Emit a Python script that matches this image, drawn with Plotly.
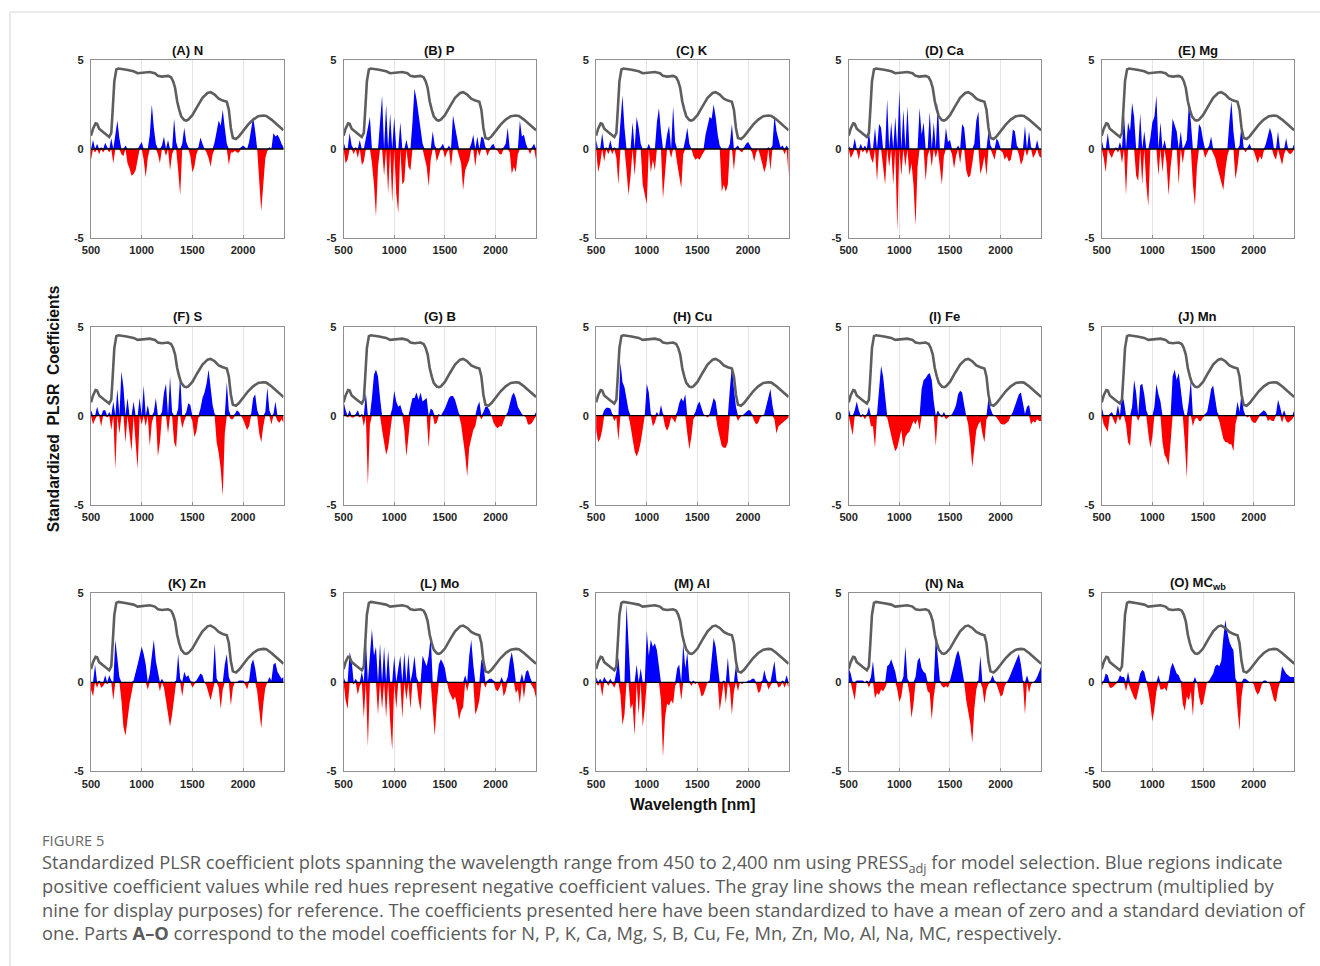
import plotly.graph_objects as go

# ---------------- data ----------------
WAVELENGTH = list(range(500, 2401, 20))  # 96 sample wavelengths (nm)

# mean reflectance spectrum x 9 (gray line)
REFL_WL = [500, 520, 545, 560, 580, 600, 640, 680, 700, 715, 730, 750, 770, 850, 920, 960,
           1000, 1080, 1130, 1160, 1200, 1260, 1290, 1310, 1330, 1350, 1370, 1390, 1420, 1440,
           1460, 1500, 1550, 1600, 1650, 1680, 1720, 1760, 1800, 1840, 1860, 1880, 1900, 1930,
           1960, 2000, 2050, 2100, 2150, 2200, 2230, 2280, 2330, 2370, 2400]
REFL_X9 = [0.75, 1.14, 1.44, 1.41, 1.14, 1.03, 0.86, 0.68, 0.90, 2.30, 3.80, 4.47, 4.52, 4.45,
           4.37, 4.26, 4.28, 4.33, 4.26, 4.11, 4.07, 4.11, 4.03, 3.81, 3.43, 2.68, 2.21, 1.84,
           1.63, 1.60, 1.65, 1.90, 2.40, 2.87, 3.15, 3.19, 3.06, 2.83, 2.72, 2.65, 2.21, 1.18,
           0.62, 0.56, 0.71, 1.00, 1.37, 1.65, 1.84, 1.88, 1.86, 1.65, 1.41, 1.22, 1.05]

COEF_N = [
    -0.6, 0.5, -0.2, 0.3, -0.3, 0.1, -0.2, 0.35, 0.1, -0.2,
    0.6, -0.8, 0.8, 1.6, 0.6, -0.3, -0.4, 0.2, -0.8, -1.1,
    -1.5, -1.4, -1.2, -0.6, 0.2, 0.4, -0.6, -1.6, -0.5, 0.8,
    2.5, 1.2, 0.3, -0.3, -0.8, 0.2, 0.7, -0.4, 0.5, -1.2,
    -0.3, 1.7, 0.4, -1.2, -2.6, 0.3, 1.2, 0.4, 0.1, -0.4,
    -1.3, -1.0, -0.3, 0.1, 0.65, 0.3, 0.0, -0.2, -0.5, -1.0,
    -0.3, 0.4, 1.0, 1.6, 1.3, 2.2, 1.2, 0.3, -0.9, -0.2,
    -0.2, -0.1, -0.2, -0.2, 0.1, 0.2, 0.1, 0.0, 0.4, 1.2,
    1.8, 1.0, 0.0, -1.8, -3.5, -2.0, -0.5, -0.1, 0.1, 0.0,
    0.9, 0.7, 0.8, 0.6, 0.3, 0.1,
]
COEF_P = [
    0.4, -0.8, -0.6, 0.9, 0.2, -0.3, 0.1, -0.5, 0.5, -0.9,
    -0.7, 0.6, 1.0, 1.8, -0.8, -2.0, -3.8, -1.0, 1.5, 3.0,
    -1.5, 2.5, -2.5, 2.0, -3.0, 1.8, -2.5, -3.6, 1.5, -2.0,
    -1.8, 0.5, -1.0, -1.2, 1.5, 3.4, 2.8, 2.0, 1.0, 0.3,
    -0.5, -1.0, -2.1, -0.6, 1.0, 0.2, -0.7, -0.3, 0.1, 0.3,
    -0.5, -0.2, 0.2, -1.0, 1.9, 1.2, 0.6, -0.4, -0.8, -2.3,
    -1.2, -0.9, -0.6, 0.3, 0.8, -1.0, 0.7, -0.4, 0.7, 0.6,
    0.1, -0.4, -0.1, 0.2, 0.3, 0.0, -0.1, -0.3, -0.3, 0.1,
    0.3, 1.2, -0.2, -1.4, -1.0, -1.3, -0.3, 1.6, 0.7, 0.8,
    0.3, 0.0, -0.3, 0.1, 0.3, -0.6,
]
COEF_K = [
    0.5, -1.3, -0.8, 0.9, -0.7, 0.1, -0.3, 0.5, -0.3, 0.1,
    -0.5, -2.0, 1.5, 3.0, 1.2, -1.2, -2.6, -1.5, 1.5, -1.5,
    1.8, 1.2, 0.3, -2.0, -2.5, -3.1, 0.3, -1.3, -0.6, -1.2,
    1.5, 2.3, 1.0, -2.8, -1.2, 0.8, 1.3, -0.5, 2.4, 0.4,
    -0.8, -1.5, -2.2, -0.3, 0.5, 1.2, 0.3, 0.0, -0.4, -0.6,
    -0.5, -0.6, -0.4, -0.2, 0.8, 1.4, 1.8, 1.7, 2.5, 1.8,
    0.8, 0.2, -2.4, -2.0, -2.4, -2.0, 0.3, 1.4, -1.2, 0.1,
    0.2, -0.1, -0.2, 0.1, 0.3, 0.4, 0.2, -0.2, -0.7, -0.2,
    0.0, -0.4, -0.9, -1.3, -0.9, 0.1, -1.2, 0.2, 1.9, 1.0,
    0.5, 0.1, 0.2, -0.3, 0.2, -1.5,
]
COEF_CA = [
    0.2, -0.5, -0.3, 0.6, -0.1, -0.6, 0.3, -0.2, 0.2, -0.3,
    1.0, -0.5, -0.8, 1.2, -1.8, 1.4, 1.2, -1.2, -2.0, 2.8,
    -1.0, 1.5, -2.0, 1.8, -4.6, 3.3, -1.5, 2.2, -1.0, 2.4,
    -1.5, -0.8, -2.0, -4.3, -1.0, 2.3, 0.8, 1.5, -1.8, -0.4,
    2.1, -1.0, 1.5, -0.5, 2.6, -1.2, -2.0, -0.4, 1.2, 0.4,
    0.5, -0.3, -1.1, -0.4, 0.2, -0.8, 1.4, 1.2, -1.2, -1.6,
    -1.5, -0.8, 0.3, 1.6, 2.1, -1.4, -1.0, -0.4, -1.5, 1.0,
    0.2, -0.3, -0.6, 0.6, 0.4, -0.1, -0.2, -0.6, -0.4, -0.7,
    -0.6, 1.1, 1.0, 0.2, -0.3, -0.9, -0.6, 1.3, -0.4, 1.0,
    0.1, -0.5, -0.3, 0.5, -0.4, -0.5,
]
COEF_MG = [
    0.5, -0.5, -1.3, 0.9, -0.3, -0.5, -0.2, 0.1, -0.2, 0.4,
    -0.8, 2.0, -2.6, 1.5, 1.0, 2.6, 1.8, -1.5, -1.8, 2.0,
    -2.0, 1.0, -2.0, -3.2, 0.6, 1.5, 1.8, 3.0, -1.5, 1.5,
    -1.3, 0.5, -0.8, -2.6, -1.0, 1.7, 1.4, 1.0, -2.0, 1.0,
    -0.8, 0.2, 0.5, 2.6, 1.5, -2.0, -3.2, -1.0, 1.4, 1.2,
    0.5, -0.5, -0.2, 0.2, 0.7, -0.3, -0.5, -1.0, -1.4, -1.8,
    -2.3, -1.2, -0.4, 1.5, 2.7, 1.0, -1.7, -1.0, 0.2, 1.4,
    0.1, -0.2, 0.1, 0.3, 0.0, -0.1, -0.5, -0.8, -0.4, -0.6,
    -0.1, 0.3, 0.8, 1.2, 0.8, -0.4, -0.6, 1.0, -0.5, -0.9,
    -0.3, 0.6, -0.2, -0.3, -0.2, 0.3,
]
COEF_S = [
    0.3, -0.5, -0.2, 0.5, 0.1, -0.6, 0.3, 0.3, -0.1, 0.2,
    -0.8, 0.8, -3.0, 1.5, -1.0, 2.5, 1.6, -1.5, 1.0, -1.2,
    -2.0, 0.8, -1.5, -3.0, 1.0, -0.5, 1.7, -0.6, 0.6, -1.7,
    -0.4, 0.2, 1.0, -2.3, -1.5, 0.2, 1.3, 1.8, -1.0, 2.2,
    0.2, -1.5, -1.8, 0.4, 2.3, -0.7, -0.3, 0.2, 0.7, 0.6,
    -0.3, -1.2, -0.9, -0.1, 0.4, 1.0, 1.3, 1.8, 2.6, 1.6,
    0.6, 0.1, -1.5, -2.1, -3.0, -4.5, -1.0, 1.9, 0.3, -0.2,
    -0.2, 0.1, 0.3, 0.2, 0.0, -0.2, -0.5, -0.8, -0.6, 0.1,
    1.0, 1.2, 0.3, -1.0, -1.5, -0.6, 0.2, 1.6, 0.3, -0.5,
    0.1, 0.8, -0.3, -0.4, -0.2, -0.4,
]
COEF_B = [
    0.8, 0.3, -0.1, 0.3, -0.1, -0.1, 0.1, 0.3, -0.1, 0.1,
    -0.6, 1.3, -3.9, -0.5, 1.0, 2.3, 2.6, 2.2, 1.0, -0.8,
    -1.5, -2.2, -1.8, -1.0, 0.4, 1.4, 0.8, 0.5, 0.6, 0.2,
    -0.8, -2.3, -1.2, 0.5, 1.0, 1.0, 1.3, 0.9, 1.3, 0.8,
    0.9, 1.0, -1.8, 0.4, 0.3, -0.5, -0.4, 0.1, 0.0, 0.2,
    0.4, 0.7, 1.0, 1.1, 1.1, 0.9, 0.5, 0.1, -0.5, -1.3,
    -2.2, -3.4, -1.8, -1.3, -0.8, -0.6, 0.5, 0.8, -0.2, 0.2,
    0.5, 0.5, 0.3, 0.0, -0.4, -0.6, -0.7, -0.6, -0.6, -0.3,
    0.0, 0.2, 0.6, 1.1, 1.3, 1.0, 0.5, 0.3, 0.1, 0.0,
    -0.1, -0.5, -0.5, -0.4, -0.2, 0.2,
]
COEF_CU = [
    -0.8, -1.5, -1.3, -0.8, 0.3, 0.45, 0.45, 0.4, 0.1, -0.3,
    -0.1, -1.4, 3.0, 1.9, 1.6, 1.0, 0.3, -0.6, -1.3, -2.0,
    -2.3, -2.0, -1.5, -0.6, 0.0, 1.8, 1.3, 0.1, -0.6, -0.4,
    0.2, 0.0, 0.6, 0.1, -0.6, -0.85, -0.6, -0.1, -0.2, -0.4,
    0.2, 0.7, 1.0, 0.8, 1.2, -1.0, -1.9, -1.2, -0.2, 0.2,
    0.6, 0.8, 0.5, 0.1, 0.0, -0.1, 0.1, 0.6, 1.0, 0.8,
    -0.7, -1.3, -1.7, -1.8, -1.8, -1.5, 1.5, 2.8, 1.5, 0.5,
    -0.3, -0.1, 0.0, 0.1, 0.2, 0.3, 0.3, 0.1, -0.3, -0.5,
    -0.4, -0.1, 0.0, 0.1, 0.6, 1.0, 1.5, 0.6, -0.2, -1.0,
    -0.6, -0.5, -0.4, -0.3, -0.2, -0.1,
]
COEF_FE = [
    0.4, -0.5, -1.1, 0.3, 0.8, 0.3, -0.1, 0.1, -0.2, 0.1,
    0.5, -0.6, -0.6, -1.8, 0.1, 1.5, 2.8, 2.2, 1.0, -0.1,
    -0.6, -1.2, -1.6, -2.0, -1.8, -1.3, -0.8, -1.8, -1.2, -1.0,
    -0.9, -0.6, -0.3, -0.5, -0.2, -0.8, 1.5, 2.0, 2.1, 2.3,
    2.4, 2.0, 0.8, -1.7, 0.3, 0.1, -0.1, 0.2, -0.2, -0.1,
    0.0, 0.1, 0.3, 0.6, 1.2, 1.4, 1.3, 0.6, 0.0, -0.5,
    -1.5, -2.9, -1.8, -0.8, -0.5, -0.3, -1.0, -1.5, -0.2, 1.0,
    0.4, 0.1, 0.0, -0.1, -0.3, -0.45, -0.5, -0.5, -0.4, -0.3,
    0.0, 0.2, 0.5, 0.8, 1.2, 1.3, 0.7, 0.1, 0.5, 0.6,
    -0.5, -0.3, -0.4, -0.2, -0.3, -0.3,
]
COEF_MN = [
    0.5, -0.5, -0.7, -0.9, 0.1, 0.2, -0.3, -0.5, 0.6, -0.3,
    1.2, 0.8, -0.5, -1.5, -1.7, 0.5, 2.0, 1.3, -0.3, 1.7,
    1.8, 1.2, 0.3, -1.0, -1.8, -1.2, 0.5, 1.8, 1.2, 0.8,
    -1.5, -2.2, -2.4, -2.8, -1.5, 2.2, 2.6, 2.0, 2.4, 1.5,
    0.5, -1.5, -3.5, 0.8, 2.0, -0.6, -0.2, -0.1, -0.3, -0.3,
    -0.1, 0.1, 0.2, 0.8, 1.5, 1.7, 1.0, 0.2, -0.3, -0.8,
    -1.3, -1.5, -1.5, -1.6, -1.6, -2.0, -0.5, 0.8, 0.2, 1.3,
    0.3, 0.0, -0.1, 0.0, -0.3, -0.4, -0.4, -0.2, 0.1, 0.2,
    0.3, 0.2, -0.3, -0.2, -0.3, -0.3, 0.1, 0.9, 0.5, -0.4,
    0.3, -0.3, -0.4, -0.3, -0.2, 0.3,
]
COEF_ZN = [
    -0.4, -0.8, 1.0, -0.3, 0.1, -0.3, -0.2, 0.4, -0.1, 0.4,
    0.1, -1.0, 2.4, 1.2, 0.3, -1.0, -2.5, -3.0, -2.0, -1.2,
    -0.6, 0.1, 0.5, 1.0, 1.5, 2.0, 1.6, 1.0, -0.4, 0.5,
    1.5, 2.4, 1.2, 0.6, -0.5, 0.2, -0.3, -1.0, -1.8, -2.5,
    -1.8, -0.8, 0.1, 1.6, 0.2, -0.8, 0.6, 0.3, 0.4, 0.1,
    -0.3, -0.1, 0.1, 0.3, 0.5, 0.4, 0.0, -0.2, -0.6, -1.0,
    -0.5, 2.2, 0.2, -0.3, -1.5, -0.4, 1.0, 1.6, 0.3, -1.3,
    -0.3, 0.0, 0.0, 0.1, 0.1, 0.1, -0.1, -0.4, 0.1, 1.0,
    1.3, 0.8, -0.5, -1.5, -2.6, -1.2, -0.3, 0.0, 0.3, 0.1,
    1.0, 1.1, 0.6, 0.4, 0.2, 0.3,
]
COEF_MO = [
    0.3, -1.0, -1.5, 1.7, 1.2, -0.1, 0.2, -0.7, -0.2, 0.6,
    -2.0, 2.5, -3.6, 1.5, 3.0, 1.5, 2.0, -1.8, 2.2, -1.5,
    2.0, -2.0, 1.8, -2.2, -3.8, 1.5, -1.5, 0.8, 1.5, -2.0,
    1.7, -1.0, 1.6, -1.5, 0.6, 1.5, 0.3, -1.0, -1.6, 1.5,
    1.2, 0.9, 1.5, 2.6, -1.5, -3.0, -1.2, 1.0, 1.3, 1.1,
    0.8, 0.1, -0.5, -0.8, -1.0, -0.8, -1.3, -2.1, -1.6, -1.4,
    0.4, -0.5, 1.5, 2.4, 1.0, -1.8, -1.5, -1.0, 1.3, 1.0,
    -0.3, 0.1, 0.2, 0.2, 0.1, -0.4, -0.5, -0.3, 0.3, -0.8,
    -0.5, 0.3, 1.2, 1.7, 1.0, -0.6, -0.4, -1.2, 0.5, -0.9,
    0.6, 0.7, 0.3, -0.2, -0.4, -0.9,
]
COEF_AL = [
    0.3, -0.2, 0.2, -0.8, 0.3, 0.1, -0.2, 0.2, -0.1, -0.3,
    0.6, 1.4, -0.7, -2.4, -1.8, 4.4, 2.0, -1.5, -1.2, -3.0,
    1.0, -1.8, 0.8, -2.5, -1.5, 2.9, 1.5, 2.4, 2.0, 2.2,
    1.8, 1.0, -1.0, -4.2, -2.0, -1.2, -1.3, -1.0, -1.2, -0.2,
    0.8, 1.0, -1.0, 2.2, 0.8, 1.7, 0.1, -0.2, 0.1, -0.1,
    0.0, -0.3, -0.8, -0.7, -0.4, 0.0, 0.1, 1.5, 2.5, 2.0,
    1.0, -1.6, -0.8, 0.1, -1.2, 1.4, -0.3, -1.8, -0.5, 1.0,
    -0.5, 0.0, -0.1, 0.0, 0.0, 0.1, 0.1, 0.2, 0.2, -0.1,
    -0.6, -0.5, 0.1, 0.7, 0.2, -0.4, -0.2, 0.6, 1.2, 0.1,
    -0.3, -0.2, 0.1, -0.3, 0.4, -0.3,
]
COEF_NA = [
    0.8, 0.5, -0.5, -1.0, 0.1, 0.1, 0.1, 0.1, 0.0, 0.1,
    -0.3, 0.3, 1.2, -0.9, -0.6, -0.7, -0.4, -0.5, -0.3, 0.9,
    1.0, 1.3, 1.0, 0.6, -0.4, -1.1, -0.8, 0.3, 2.0, 0.2,
    -0.6, -2.0, -1.2, 0.3, 1.2, 1.4, 0.8, 0.6, 0.5, -0.5,
    -0.6, -2.1, -0.8, 2.6, 1.5, 0.1, -0.2, -0.3, -0.2, -0.3,
    0.1, 0.5, 1.0, 1.5, 1.8, 1.4, 0.6, 0.0, -1.0, -1.7,
    -2.3, -3.4, -1.5, -0.4, 0.1, 1.5, -0.3, -1.2, -0.4, -0.1,
    0.1, 0.4, 0.1, -0.1, -0.4, -0.8, -0.7, -0.2, 0.0, 0.2,
    0.5, 0.8, 1.0, 1.3, 1.6, 1.0, 0.1, -1.8, 0.4, -0.6,
    -0.1, 0.0, 0.1, 0.3, 0.6, 0.9,
]
COEF_MC = [
    -0.2, 0.1, 0.5, 0.4, -0.3, -0.3, -0.2, -0.1, 0.1, 0.4,
    0.3, 0.3, -0.5, 0.6, -0.3, -0.6, -0.9, -1.0, -0.5, 0.5,
    0.7, 0.6, 0.1, -0.5, -1.2, -2.2, -1.5, -0.5, 0.4, -0.4,
    -0.4, -0.3, -0.5, 0.1, 0.8, 1.1, 0.8, 0.5, 0.4, 0.1,
    -1.2, -1.6, -0.8, -1.0, -0.5, -1.9, 0.3, 0.0, -0.8, -1.3,
    -1.2, -0.6, 0.0, 0.1, 0.3, 0.5, 0.9, 1.0, 0.9, 1.2,
    2.5, 3.5, 2.8, 2.3, 2.0, 1.8, 0.2, -1.5, -2.7, -0.8,
    0.2, 0.2, 0.1, 0.0, 0.0, -0.1, -0.5, -0.7, -0.5, -0.1,
    0.1, 0.1, 0.0, -0.1, -0.5, -1.0, -1.1, -0.4, 0.1, 0.9,
    0.7, 0.5, 0.4, 0.3, 0.3, 0.3,
]

PANEL_TITLES = ["(A) N", "(B) P", "(C) K", "(D) Ca", "(E) Mg",
                "(F) S", "(G) B", "(H) Cu", "(I) Fe", "(J) Mn",
                "(K) Zn", "(L) Mo", "(M) Al", "(N) Na", "(O) MC<sub>wb</sub>"]
COEFS = [COEF_N, COEF_P, COEF_K, COEF_CA, COEF_MG,
         COEF_S, COEF_B, COEF_CU, COEF_FE, COEF_MN,
         COEF_ZN, COEF_MO, COEF_AL, COEF_NA, COEF_MC]
X_TICKS = [500, 1000, 1500, 2000]
Y_TICKS = [-5, 0, 5]

CAPTION_HEAD = "FIGURE 5"
CAPTION_LINES = [
    "Standardized PLSR coefficient plots spanning the wavelength range from 450 to 2,400 nm using PRESS<sub>adj</sub> for model selection. Blue regions indicate",
    "positive coefficient values while red hues represent negative coefficient values. The gray line shows the mean reflectance spectrum (multiplied by",
    "nine for display purposes) for reference. The coefficients presented here have been standardized to have a mean of zero and a standard deviation of",
    "one. Parts <b>A–O</b> correspond to the model coefficients for N, P, K, Ca, Mg, S, B, Cu, Fe, Mn, Zn, Mo, Al, Na, MC, respectively.",
]

# ---------------- layout constants ----------------
# The captured page is offset and very slightly scaled; target page pixel
# positions are mapped into figure pixels with this calibration.
SX, SY, CX, CY = 0.993, 0.987, 9.0, 5.0
W, H = 1320, 974
FS = 1.0 / 0.99  # font compensation for the page scaling


def px(xp):
    return ((xp - CX) / SX) / W


def py(yp):
    return 1 - ((yp - CY) / SY) / H


COL_LEFT = [91.0, 343.5, 596.0, 848.5, 1101.5]
ROW_TOP = [59.0, 325.5, 592.0]
AX_W, AX_H = 192.5, 177.8
BLUE, RED, GRAY = "#0000ff", "#ff0000", "#5e5e5e"
FONT = "Liberation Sans, Arial, Helvetica, sans-serif"
TICK_FONT = dict(family=FONT, size=11 * FS, color="#262626", weight="bold")

fig = go.Figure()
axes_layout = {}
shapes = []
annotations = []

for i, (title, coef) in enumerate(zip(PANEL_TITLES, COEFS)):
    assert len(coef) == len(WAVELENGTH), title
    r, c = divmod(i, 5)
    n = i + 1
    sfx = "" if n == 1 else str(n)
    xa, ya = "x" + sfx, "y" + sfx
    pos = [v if v > 0 else 0.0 for v in coef]
    neg = [v if v < 0 else 0.0 for v in coef]
    fig.add_trace(go.Scatter(x=WAVELENGTH, y=pos, mode="lines", fill="tozeroy",
                             fillcolor=BLUE, line=dict(width=0, color=BLUE),
                             xaxis=xa, yaxis=ya, hoverinfo="skip", showlegend=False))
    fig.add_trace(go.Scatter(x=WAVELENGTH, y=neg, mode="lines", fill="tozeroy",
                             fillcolor=RED, line=dict(width=0, color=RED),
                             xaxis=xa, yaxis=ya, hoverinfo="skip", showlegend=False))
    fig.add_trace(go.Scatter(x=REFL_WL, y=REFL_X9, mode="lines",
                             line=dict(color=GRAY, width=2.6),
                             xaxis=xa, yaxis=ya, hoverinfo="skip", showlegend=False))

    x0 = px(COL_LEFT[c])
    x1 = px(COL_LEFT[c] + AX_W)
    y1 = py(ROW_TOP[r])
    y0 = py(ROW_TOP[r] + AX_H)
    axes_layout["xaxis" + sfx] = dict(
        domain=[x0, x1], anchor=ya, range=[500, 2400],
        tickmode="array", tickvals=X_TICKS, ticktext=[str(t) for t in X_TICKS],
        showgrid=True, gridcolor="#e4e4e4", gridwidth=1, zeroline=False,
        showline=True, mirror=True, linecolor="#8f8f8f", linewidth=1,
        ticks="inside", ticklen=3, tickcolor="#8f8f8f", tickfont=TICK_FONT,
        ticklabelstandoff=2, fixedrange=True)
    axes_layout["yaxis" + sfx] = dict(
        domain=[y0, y1], anchor=xa, range=[-5, 5],
        tickmode="array", tickvals=Y_TICKS, ticktext=[str(t) for t in Y_TICKS],
        showgrid=False, zeroline=False,
        showline=True, mirror=True, linecolor="#8f8f8f", linewidth=1,
        ticks="inside", ticklen=3, tickcolor="#8f8f8f", tickfont=TICK_FONT,
        ticklabelstandoff=4, fixedrange=True)
    shapes.append(dict(type="line", xref=xa + " domain", yref=ya, x0=0, x1=1, y0=0, y1=0,
                       line=dict(color="black", width=1.3), layer="above"))
    annotations.append(dict(text="<b>" + title + "</b>", xref="paper", yref="paper",
                            x=(x0 + x1) / 2, y=py(ROW_TOP[r] - 10),
                            xanchor="center", yanchor="middle", showarrow=False,
                            font=dict(family=FONT, size=13 * FS, color="#111111")))

# axis titles
annotations.append(dict(text="<b>Standardized  PLSR  Coefficients</b>", xref="paper", yref="paper",
                        x=px(53), y=py(408), textangle=-90, showarrow=False,
                        xanchor="center", yanchor="middle",
                        font=dict(family=FONT, size=15.5 * FS, color="#111111")))
annotations.append(dict(text="<b>Wavelength [nm]</b>", xref="paper", yref="paper",
                        x=px(692), y=py(802.5), showarrow=False,
                        xanchor="center", yanchor="middle",
                        font=dict(family=FONT, size=15.5 * FS, color="#111111")))

# caption
CAP_FONT = "Open Sans, Noto Sans, sans-serif"
annotations.append(dict(text=CAPTION_HEAD, xref="paper", yref="paper",
                        x=px(40), y=py(838.5), showarrow=False,
                        xanchor="left", yanchor="middle",
                        font=dict(family=CAP_FONT, size=14.5 * FS, color="#666666")))
annotations.append(dict(text="<br>".join(CAPTION_LINES), xref="paper", yref="paper",
                        x=px(40), y=py(845.5), showarrow=False,
                        xanchor="left", yanchor="top", align="left",
                        font=dict(family=CAP_FONT, size=18.1 * FS, color="#5a5a5a")))

# page frame
shapes.append(dict(type="rect", xref="paper", yref="paper",
                   x0=px(10), x1=1.05, y0=-0.05, y1=py(11),
                   line=dict(color="#d4d4d4", width=1), layer="below"))

fig.update_layout(
    width=W, height=H, margin=dict(l=0, r=0, t=0, b=0),
    paper_bgcolor="white", plot_bgcolor="white",
    showlegend=False, shapes=shapes, annotations=annotations,
    font=dict(family=FONT), **axes_layout)

fig.write_html("out.html")
